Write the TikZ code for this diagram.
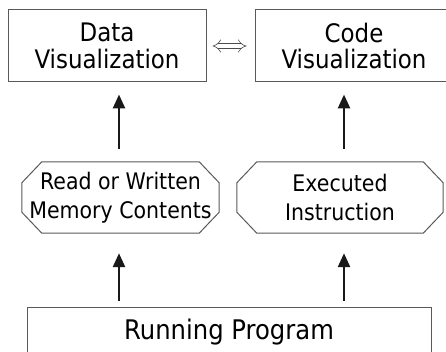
\documentclass[tikz,border=0pt]{standalone}
\usepackage{fontspec}
\setmainfont{DejaVu Sans}[FakeStretch=0.9]
\usetikzlibrary{positioning}
\usetikzlibrary{arrows.meta}

\tikzset{
  viewbox/.style={draw=black!65, line width=1pt, rectangle, align=center,
    inner sep=0pt, font=\fontsize{25.5}{26.5}\selectfont, text=black},
  tracebox/.style={rectangle, align=center, inner sep=0pt,
    font=\fontsize{22.8}{28.5}\selectfont, text=black},
  edge/.style={draw=black!65, line width=1pt},
  flow/.style={line width=2.6pt, black!90, -{Triangle[length=14pt,width=12pt]}},
  link/.style={double=white, double distance=4pt, line width=0.6pt, black!70,
    {Implies}-{Implies}}
}

\begin{document}
\begin{tikzpicture}[x=1pt,y=-1pt]
        \clip (0,0) rectangle (446,352);
        \useasboundingbox (0,0) rectangle (446,352);
        % views
        \node[viewbox, minimum width=198pt, minimum height=72pt] (data) at (107,46) {Data\\Visualization};
        \node[viewbox, minimum width=198pt, minimum height=72pt] (code) at (354,46) {Code\\Visualization};
        % traced events
        \node[tracebox, minimum width=197pt, minimum height=71pt] (mem) at (120.5,197.5) {Read or Written\\Memory Contents};
        \node[tracebox, minimum width=206pt, minimum height=71pt] (exec) at (340,197.5) {Executed\\Instruction};
        \foreach \n in {mem,exec}
          \draw[edge] ([xshift=20pt]\n.north west) -- ([xshift=-20pt]\n.north east)
            -- ([yshift=-21pt]\n.north east) -- ([yshift=21pt]\n.south east)
            -- ([xshift=-20pt]\n.south east) -- ([xshift=20pt]\n.south west)
            -- ([yshift=21pt]\n.south west) -- ([yshift=-21pt]\n.north west) -- cycle;
        % program
        \node[viewbox, minimum width=404pt, minimum height=50pt, font=\fontsize{27}{28}\selectfont] (run) at (229,332) {Running Program};
        \draw[flow, shorten <=13pt, shorten >=12pt] ([xshift=-1.5pt]mem.north) -- ([xshift=-1.5pt]mem.north |- data.south);
        \draw[flow, shorten <=13pt, shorten >=12pt] ([xshift=4pt]exec.north) -- ([xshift=4pt]exec.north |- code.south);
        \draw[flow, shorten <=6pt, shorten >=20pt] ([xshift=-1.5pt]run.north -| mem.south) -- ([xshift=-1.5pt]mem.south);
        \draw[flow, shorten <=6pt, shorten >=20pt] ([xshift=4pt]run.north -| exec.south) -- ([xshift=4pt]exec.south);
        \draw[link, shorten <=6pt, shorten >=8pt] (data.east) -- (code.west);
\end{tikzpicture}
\end{document}
